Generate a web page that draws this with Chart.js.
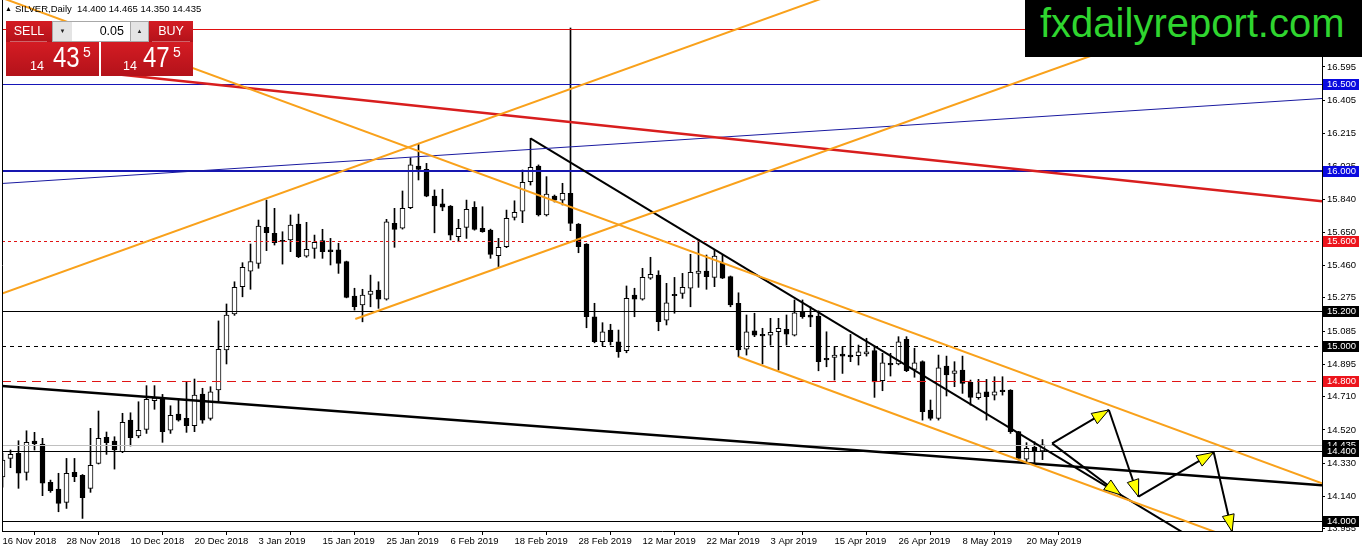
<!DOCTYPE html>
<html>
<head>
<meta charset="utf-8">
<title>SILVER Daily</title>
<script src="https://cdn.jsdelivr.net/npm/chart.js@4.4.1/dist/chart.umd.min.js"></script>
<style>
  body { margin: 0; background: #fff; }
  #wrap { position: relative; width: 1362px; height: 552px; overflow: hidden; font-family: "Liberation Sans", Arial, sans-serif; }
  #chart { position: absolute; left: 0; top: 0; }
  #head { position: absolute; left: 5px; top: 3px; font-size: 9.5px; color: #000; white-space: nowrap; }
  #head .tri { font-size: 7px; margin-right: 3px; position: relative; top: -1px; }
  .red { position: absolute; background: linear-gradient(#d41c23, #b3121a); color: #fff; }
  .btn { font-size: 12.5px; text-align: center; line-height: 21px; }
  .spin { position: absolute; top: 21px; height: 19px; background: #e4e4e4; border: 1px solid #a8a8a8; font-size: 6px; line-height: 19px; text-align: center; color: #222; }
  .lot { position: absolute; top: 21px; height: 19px; background: #fff; border-top: 1px solid #a8a8a8; border-bottom: 1px solid #a8a8a8; font-size: 12.5px; line-height: 19px; text-align: right; }
  .sep { position: absolute; height: 1px; background: rgba(255,255,255,0.35); }
  .px { position: absolute; line-height: 1; color: #fff; transform-origin: 0 0; }
  .px.small { font-size: 12.5px; }
  .px.big { font-size: 30px; transform: scaleX(0.8); }
  .px.sup { font-size: 14px; }
  #logo { position: absolute; left: 1025px; top: 0; width: 337px; height: 57px; background: #000; }
  #logo span { position: absolute; left: 15px; top: 0; font-size: 40px; line-height: 46px; color: #2fd52f; white-space: nowrap; }
</style>
</head>
<body>
<div id="wrap">
  <canvas id="chart" width="1362" height="552"></canvas>
  <div id="head"><span class="tri">&#9650;</span>SILVER,Daily&nbsp; 14.400 14.465 14.350 14.435</div>

  <div class="red btn" style="left:6px; top:21px; width:46px; height:21px;">SELL</div>
  <div class="spin" style="left:52px; width:19px;">&#9660;</div>
  <div class="lot" style="left:72px; width:52px; padding-right:6px;">0.05</div>
  <div class="spin" style="left:130px; width:17px;">&#9650;</div>
  <div class="red btn" style="left:149px; top:21px; width:44px; height:21px;">BUY</div>

  <div class="red" style="left:6px; top:42px; width:93px; height:34px;"></div>
  <div class="red" style="left:101px; top:42px; width:92px; height:34px;"></div>
  <div class="sep" style="left:10px; top:41px; width:37px;"></div>
  <div class="sep" style="left:152px; top:41px; width:38px;"></div>

  <div class="px small" style="left:30px; top:60px;">14</div>
  <div class="px big" style="left:53px; top:42px;">43</div>
  <div class="px sup" style="left:83px; top:45px;">5</div>
  <div class="px small" style="left:123px; top:60px;">14</div>
  <div class="px big" style="left:143px; top:42px;">47</div>
  <div class="px sup" style="left:173px; top:45px;">5</div>

  <div id="logo"><span>fxdailyreport.com</span></div>
</div>

<script>
/* ===============================
   Data (SILVER daily, bar 0 = 16 Nov 2018)
================================ */
const opens = [
  14.251, 14.357, 14.386, 14.277, 14.456, 14.439, 14.220, 14.182, 14.106, 14.277,
  14.260, 14.186, 14.329, 14.477, 14.456, 14.395, 14.576, 14.485, 14.523, 14.687,
  14.702, 14.519, 14.611, 14.586, 14.544, 14.725, 14.586, 14.748, 14.977, 15.183,
  15.339, 15.428, 15.472, 15.678, 15.644, 15.600, 15.606, 15.697, 15.514, 15.558,
  15.602, 15.549, 15.549, 15.482, 15.285, 15.234, 15.295, 15.320, 15.267, 15.701,
  15.673, 15.790, 16.029, 16.010, 15.857, 15.812, 15.800, 15.625, 15.678, 15.793,
  15.673, 15.663, 15.516, 15.567, 15.735, 15.771, 15.939, 16.029, 15.749, 15.857,
  15.834, 15.873, 15.697, 15.583, 15.167, 15.024, 15.091, 15.024, 14.973, 15.291,
  15.267, 15.387, 15.405, 15.148, 15.295, 15.301, 15.330, 15.415, 15.428, 15.392,
  15.472, 15.396, 15.244, 14.981, 15.087, 15.066, 15.061, 15.081, 15.095, 15.062,
  15.192, 15.177, 15.171, 14.929, 14.935, 14.954, 14.948, 14.944, 14.954, 14.973,
  14.801, 14.901, 14.897, 15.038, 14.866, 14.910, 14.634, 14.586, 14.885, 14.843,
  14.862, 14.792, 14.704, 14.738, 14.718, 14.748, 14.748, 14.510, 14.352, 14.420,
  14.400
];
const highs = [
  14.388, 14.405, 14.458, 14.515, 14.506, 14.472, 14.233, 14.272, 14.357, 14.357,
  14.265, 14.529, 14.628, 14.508, 14.481, 14.615, 14.618, 14.681, 14.773, 14.773,
  14.723, 14.658, 14.697, 14.792, 14.811, 14.758, 14.767, 15.143, 15.240, 15.367,
  15.476, 15.583, 15.720, 15.834, 15.787, 15.653, 15.749, 15.754, 15.707, 15.634,
  15.667, 15.615, 15.587, 15.485, 15.330, 15.324, 15.405, 15.367, 15.724, 15.787,
  15.886, 16.076, 16.159, 16.044, 15.892, 15.896, 15.803, 15.724, 15.834, 15.825,
  15.796, 15.668, 15.615, 15.777, 15.830, 16.006, 16.187, 16.035, 15.968, 15.863,
  15.930, 16.818, 15.700, 15.585, 15.244, 15.133, 15.124, 15.091, 15.343, 15.330,
  15.444, 15.507, 15.430, 15.358, 15.392, 15.415, 15.524, 15.610, 15.520, 15.549,
  15.520, 15.400, 15.304, 15.177, 15.187, 15.101, 15.158, 15.158, 15.177, 15.263,
  15.263, 15.224, 15.201, 15.081, 14.996, 14.996, 15.066, 15.005, 15.044, 14.996,
  14.958, 14.958, 15.053, 15.053, 14.987, 14.915, 14.691, 14.948, 14.942, 14.910,
  14.942, 14.805, 14.809, 14.809, 14.824, 14.824, 14.750, 14.512, 14.447, 14.452,
  14.465
];
const lows = [
  14.193, 14.304, 14.186, 14.233, 14.405, 14.144, 14.163, 14.052, 14.071, 14.224,
  14.014, 14.163, 14.325, 14.380, 14.296, 14.390, 14.428, 14.475, 14.500, 14.638,
  14.449, 14.500, 14.570, 14.506, 14.510, 14.558, 14.576, 14.681, 14.897, 15.175,
  15.281, 15.324, 15.444, 15.545, 15.577, 15.468, 15.539, 15.505, 15.507, 15.501,
  15.501, 15.463, 15.415, 15.275, 15.205, 15.138, 15.224, 15.215, 15.262, 15.564,
  15.668, 15.785, 15.949, 15.853, 15.647, 15.773, 15.606, 15.596, 15.615, 15.662,
  15.650, 15.501, 15.453, 15.562, 15.720, 15.705, 15.920, 15.743, 15.743, 15.823,
  15.806, 15.659, 15.533, 15.104, 15.018, 15.001, 15.005, 14.935, 14.961, 15.167,
  15.262, 15.381, 15.087, 15.120, 15.187, 15.272, 15.224, 15.335, 15.324, 15.339,
  15.385, 15.224, 14.938, 14.948, 15.053, 14.897, 15.005, 14.862, 15.005, 15.057,
  15.158, 15.110, 14.858, 14.881, 14.805, 14.843, 14.910, 14.891, 14.942, 14.706,
  14.744, 14.828, 14.892, 14.853, 14.821, 14.576, 14.576, 14.576, 14.714, 14.767,
  14.729, 14.662, 14.695, 14.576, 14.691, 14.719, 14.500, 14.348, 14.329, 14.332,
  14.350
];
const closes = [
  14.348, 14.380, 14.272, 14.449, 14.441, 14.215, 14.172, 14.100, 14.272, 14.252,
  14.132, 14.317, 14.472, 14.447, 14.405, 14.563, 14.475, 14.518, 14.695, 14.702,
  14.510, 14.603, 14.576, 14.544, 14.719, 14.576, 14.738, 14.981, 15.177, 15.335,
  15.450, 15.482, 15.686, 15.647, 15.590, 15.598, 15.691, 15.510, 15.553, 15.593,
  15.539, 15.539, 15.472, 15.278, 15.224, 15.291, 15.314, 15.267, 15.710, 15.667,
  15.787, 16.035, 16.010, 15.857, 15.800, 15.793, 15.634, 15.673, 15.781, 15.667,
  15.653, 15.524, 15.564, 15.730, 15.764, 15.936, 16.021, 15.749, 15.869, 15.834,
  15.873, 15.701, 15.567, 15.167, 15.024, 15.081, 15.024, 14.967, 15.272, 15.267,
  15.392, 15.410, 15.139, 15.247, 15.287, 15.335, 15.421, 15.428, 15.396, 15.514,
  15.387, 15.234, 14.977, 15.081, 15.062, 15.057, 15.078, 15.101, 15.068, 15.190,
  15.167, 15.164, 14.910, 14.920, 14.948, 14.942, 14.938, 14.967, 14.967, 14.795,
  14.904, 14.891, 15.024, 14.858, 14.904, 14.624, 14.586, 14.875, 14.834, 14.858,
  14.786, 14.706, 14.732, 14.710, 14.738, 14.738, 14.510, 14.357, 14.415, 14.395,
  14.435
];

const dateLabels = [
  "16 Nov 2018", "28 Nov 2018", "10 Dec 2018", "20 Dec 2018", "3 Jan 2019",
  "15 Jan 2019", "25 Jan 2019", "6 Feb 2019", "18 Feb 2019", "28 Feb 2019",
  "12 Mar 2019", "22 Mar 2019", "3 Apr 2019", "15 Apr 2019", "26 Apr 2019",
  "8 May 2019", "20 May 2019"
];
const dateBars = [0, 8, 16, 24, 32, 40, 48, 56, 64, 72, 80, 88, 96, 104, 112, 120, 128];

const priceTicks = [
  16.595, 16.405, 16.215, 16.025, 15.840, 15.650, 15.460, 15.275,
  15.085, 14.895, 14.710, 14.520, 14.330, 14.140, 13.955
];

/* horizontal price levels */
const levelPrices = [16.810, 16.500, 16.000, 15.600, 15.200, 15.000, 14.800, 14.435, 14.400, 14.000];

/* trend lines: [bar, price] start and end */
const trendStarts = [
  [-0.06, 15.299], [44.1, 15.154], [-0.06, 16.990], [92, 14.938],
  [14.6, 16.552], [-0.06, 15.929], [-0.06, 14.771], [66, 16.187]
];
const trendEnds = [
  [164.94, 18.016], [164.94, 17.131], [164.94, 14.215], [164.94, 13.712],
  [164.94, 15.828], [164.94, 16.415], [164.94, 14.204], [164.94, 13.453]
];

/* forecast arrows: [bar, price] vertices */
const arrowPathA = [[131.2, 14.443], [138.3, 14.634], [142.0, 14.138], [151.4, 14.392], [153.7, 13.938]];
const arrowPathB = [[131.2, 14.443], [139.8, 14.148]];

/* ===============================
   Styles
================================ */
const FONT = "'Liberation Sans', Arial, sans-serif";
const X_MIN = -0.0625, X_MAX = 164.9375;
const Y_MIN = 13.942, Y_MAX = 16.978;

const ORANGE = "#f9a11b";
const levelStyles = [
  { color: "#e01010", width: 1, dash: [],     label: null },
  { color: "#1616b8", width: 1, dash: [],     label: "#0a0adf" },
  { color: "#1616b0", width: 2, dash: [],     label: "#0a0adf" },
  { color: "#e01414", width: 1, dash: [3, 3], label: "#ec141c" },
  { color: "#000000", width: 1, dash: [],     label: "#000000" },
  { color: "#000000", width: 1, dash: [4, 4], label: "#000000" },
  { color: "#e01414", width: 1, dash: [9, 6], label: "#ec141c" },
  { color: "#c0c0c0", width: 1, dash: [],     label: "#000000" },
  { color: "#000000", width: 1, dash: [],     label: "#000000" },
  { color: "#000000", width: 1, dash: [],     label: "#000000" }
];
const trendStyles = [
  { color: ORANGE, width: 2 }, { color: ORANGE, width: 2 },
  { color: ORANGE, width: 2 }, { color: ORANGE, width: 2 },
  { color: "#d81e1e", width: 2.5 }, { color: "#1a1aa0", width: 1 },
  { color: "#000000", width: 2.5 }, { color: "#000000", width: 2 }
];

/* ===============================
   Datasets
================================ */
const wickData = highs.map((h, i) => ({ x: i, y: [lows[i], h] }));
const bodyData = opens.map((o, i) => ({ x: i, y: [o, closes[i]] }));
const bodyFill = opens.map((o, i) => closes[i] >= o ? "#ffffff" : "#000000");

const datasets = [
  {
    type: "bar", data: wickData, order: 20, grouped: false,
    barThickness: 1, backgroundColor: "#000", borderWidth: 0, minBarLength: 1
  },
  {
    type: "bar", data: bodyData, order: 19, grouped: false,
    barThickness: 5, backgroundColor: bodyFill, borderColor: "#000",
    borderWidth: 1, borderSkipped: false, minBarLength: 1
  }
];

trendStarts.forEach((p, k) => {
  const s = trendStyles[k];
  datasets.push({
    type: "line", order: 5,
    data: [{ x: p[0], y: p[1] }, { x: trendEnds[k][0], y: trendEnds[k][1] }],
    borderColor: s.color, borderWidth: s.width,
    pointRadius: 0, fill: false
  });
});

/* ===============================
   Plugins: levels, arrows, frame, level tags
================================ */
function arrowSegment(ctx, x1, y1, x2, y2) {
  const a = Math.atan2(y2 - y1, x2 - x1);
  const len = 17, half = 6;
  ctx.strokeStyle = "#000";
  ctx.lineWidth = 2;
  ctx.beginPath();
  ctx.moveTo(x1, y1);
  ctx.lineTo(x2, y2);
  ctx.stroke();

  const bx = x2 - len * Math.cos(a), by = y2 - len * Math.sin(a);
  ctx.beginPath();
  ctx.moveTo(x2, y2);
  ctx.lineTo(bx + half * Math.sin(a), by - half * Math.cos(a));
  ctx.lineTo(bx - half * Math.sin(a), by + half * Math.cos(a));
  ctx.closePath();
  ctx.fillStyle = "#ffff00";
  ctx.fill();
  ctx.lineWidth = 1;
  ctx.stroke();
}

const overlayPlugin = {
  id: "overlay",
  afterDatasetDraw(chart, args) {
    // horizontal levels go right above the candle bodies
    if (args.index !== 1) return;
    const { ctx, chartArea, scales: { y } } = chart;
    ctx.save();
    ctx.beginPath();
    ctx.rect(chartArea.left, chartArea.top, chartArea.width, chartArea.height);
    ctx.clip();
    levelPrices.forEach((v, k) => {
      const s = levelStyles[k];
      let py = Math.round(y.getPixelForValue(v));
      if (s.width % 2 === 1) py += 0.5;
      ctx.strokeStyle = s.color;
      ctx.lineWidth = s.width;
      ctx.setLineDash(s.dash);
      ctx.beginPath();
      ctx.moveTo(chartArea.left, py);
      ctx.lineTo(chartArea.right, py);
      ctx.stroke();
    });
    ctx.restore();
  },
  afterDatasetsDraw(chart) {
    const { ctx, scales: { x, y } } = chart;
    ctx.save();
    [arrowPathA, arrowPathB].forEach(path => {
      for (let k = 1; k < path.length; k++) {
        arrowSegment(ctx,
          x.getPixelForValue(path[k - 1][0]), y.getPixelForValue(path[k - 1][1]),
          x.getPixelForValue(path[k][0]), y.getPixelForValue(path[k][1]));
      }
    });
    ctx.restore();
  },
  afterDraw(chart) {
    const { ctx, chartArea, scales: { y } } = chart;
    ctx.save();
    // left frame
    ctx.strokeStyle = "#000";
    ctx.lineWidth = 1;
    ctx.beginPath();
    ctx.moveTo(chartArea.left + 0.5, chartArea.top);
    ctx.lineTo(chartArea.left + 0.5, chartArea.bottom);
    ctx.stroke();

    // price level tags on the axis
    ctx.font = "9.5px " + FONT;
    ctx.textBaseline = "middle";
    ctx.textAlign = "left";
    levelPrices.forEach((v, k) => {
      const bg = levelStyles[k].label;
      if (!bg) return;
      const py = Math.round(y.getPixelForValue(v));
      ctx.fillStyle = bg;
      ctx.fillRect(chartArea.right + 1, py - 5, 36, 11);
      ctx.fillStyle = "#fff";
      ctx.fillText(v.toFixed(3), chartArea.right + 5, py + 0.5);
    });
    ctx.restore();
  }
};

/* ===============================
   Chart
================================ */
new Chart(document.getElementById("chart"), {
  type: "bar",
  data: { datasets },
  plugins: [overlayPlugin],
  options: {
    responsive: false,
    animation: false,
    events: [],
    layout: { padding: { left: 2, right: 0, top: 0, bottom: 0 } },
    plugins: { legend: { display: false }, tooltip: { enabled: false } },
    scales: {
      x: {
        type: "linear",
        min: X_MIN,
        max: X_MAX,
        offset: false,
        afterBuildTicks: s => { s.ticks = dateBars.map(v => ({ value: v })); },
        afterFit: s => { s.height = 21; s.paddingLeft = 0; s.paddingRight = 0; },
        grid: { drawOnChartArea: false, drawTicks: true, tickLength: 4, color: "#000" },
        border: { color: "#000" },
        ticks: {
          align: "start", autoSkip: false, maxRotation: 0, padding: 1,
          color: "#000", font: { family: FONT, size: 9.5 },
          callback: (v, i) => dateLabels[i]
        }
      },
      y: {
        type: "linear",
        position: "right",
        min: Y_MIN,
        max: Y_MAX,
        afterBuildTicks: s => { s.ticks = priceTicks.map(v => ({ value: v })); },
        afterFit: s => { s.width = 40; s.paddingTop = 0; s.paddingBottom = 0; },
        grid: { drawOnChartArea: false, drawTicks: true, tickLength: 3, color: "#000" },
        border: { color: "#000" },
        ticks: {
          autoSkip: false, padding: 2, color: "#000",
          font: { family: FONT, size: 9.5 },
          callback: v => v.toFixed(3)
        }
      }
    }
  }
});
</script>
</body>
</html>
